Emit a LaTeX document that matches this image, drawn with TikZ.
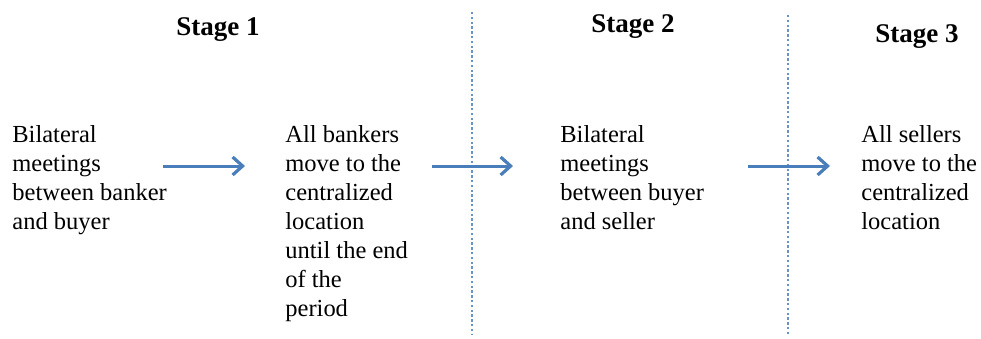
\documentclass[tikz,border=0pt]{standalone}
\usepackage{fontspec}
\setmainfont{Liberation Serif}
\usetikzlibrary{arrows.meta,positioning}
\definecolor{flowblue}{HTML}{4A7EBB}
\definecolor{sepblue}{HTML}{6A92C4}

\begin{document}
\begin{tikzpicture}
[x=0.5pt,y=-0.5pt,
stagetitle/.style={anchor=base,inner sep=0pt,font=\fontsize{13.5}{16}\selectfont\bfseries},
descr/.style={anchor=north west,inner sep=0pt,align=left,font=\fontsize{12.25}{14.5}\selectfont},
flow/.style={flowblue,line width=1.5pt,-{Straight Barb[length=5pt,width=9pt,line width=1.6pt]}},
sep/.style={sepblue,line width=.8pt,dash pattern=on 1.2pt off 1.2pt}]
\useasboundingbox (0,0) rectangle (981,338);
%%
% stage titles
%%
\node[stagetitle] (s1) at (218,35) {Stage 1};
\node[stagetitle] (s2) at (633,32) {Stage 2};
\node[stagetitle] (s3) at (917,42) {Stage 3};
%%
% separators
%%
\draw[sep] (472,12) -- (472,335);
\draw[sep] (788,15) -- (788,335);
%%
% descriptions
%%
\node[descr] (bb) at (12,125) {Bilateral\\meetings\\between banker\\and buyer};
\node[descr] (bc) at (285,125) {All bankers\\move to the\\centralized\\location\\until the end\\of the\\period};
\node[descr] (bs) at (560,125) {Bilateral\\meetings\\between buyer\\and seller};
\node[descr] (sc) at (861,125) {All sellers\\move to the\\centralized\\location};
%%
% arrows
%%
\coordinate (a1s) at (163,166);
\coordinate (a1e) at (245,166);
\coordinate (a2s) at (432,166);
\coordinate (a2e) at (513,166);
\coordinate (a3s) at (748,166);
\coordinate (a3e) at (830,166);
\draw[flow] (a1s) -- (a1e);
\draw[flow] (a2s) -- (a2e);
\draw[flow] (a3s) -- (a3e);
\end{tikzpicture}
\end{document}
